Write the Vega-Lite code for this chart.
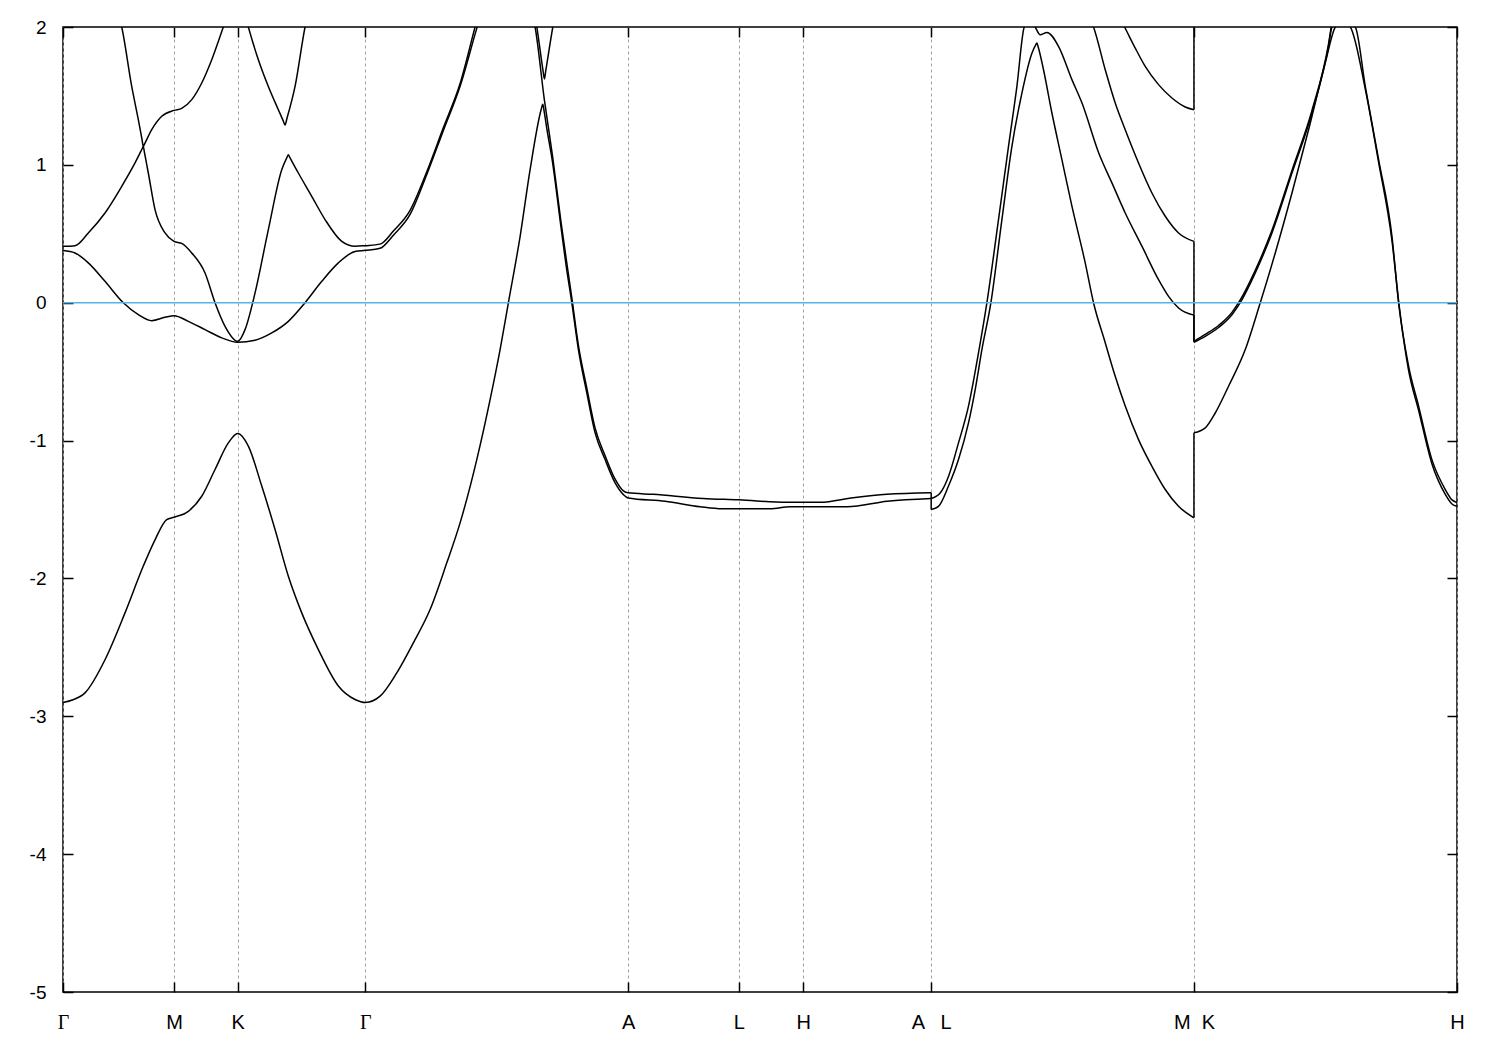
{
  "$schema": "https://vega.github.io/schema/vega-lite/v6.json",
  "width": 1394,
  "height": 965,
  "autosize": {"type": "none"},
  "padding": {"left": 63, "top": 27, "right": 43, "bottom": 58},
  "background": "white",
  "config": {
    "view": {"stroke": "black", "strokeWidth": 1.5},
    "axis": {"domain": false, "labelFont": "Liberation Sans", "labelColor": "black", "tickColor": "black", "tickWidth": 1.5, "title": null}
  },
  "datasets": {
    "bands": [
      {"b":1,"s":1,"k":0,"e":-2.9},{"b":1,"s":1,"k":0.1,"e":-2.88},{"b":1,"s":1,"k":0.22,"e":-2.83},{"b":1,"s":1,"k":0.42,"e":-2.59},{"b":1,"s":1,"k":0.62,"e":-2.25},{"b":1,"s":1,"k":0.803,"e":-1.91},{"b":1,"s":1,"k":0.92,"e":-1.72},{"b":1,"s":1,"k":1.037,"e":-1.573},{"b":1,"s":1,"k":1.11,"e":-1.556},{"b":1,"s":1,"k":1.253,"e":-1.513},{"b":1,"s":1,"k":1.387,"e":-1.404},{"b":1,"s":1,"k":1.52,"e":-1.21},{"b":1,"s":1,"k":1.653,"e":-1.017},{"b":1,"s":1,"k":1.747,"e":-0.949},{"b":1,"s":1,"k":1.853,"e":-1.04},{"b":1,"s":1,"k":1.987,"e":-1.33},{"b":1,"s":1,"k":2.12,"e":-1.645},{"b":1,"s":1,"k":2.253,"e":-1.984},{"b":1,"s":1,"k":2.387,"e":-2.25},{"b":1,"s":1,"k":2.553,"e":-2.516},{"b":1,"s":1,"k":2.753,"e":-2.78},{"b":1,"s":1,"k":2.92,"e":-2.878},{"b":1,"s":1,"k":3.023,"e":-2.9},{"b":1,"s":1,"k":3.17,"e":-2.854},{"b":1,"s":1,"k":3.337,"e":-2.685},{"b":1,"s":1,"k":3.503,"e":-2.467},{"b":1,"s":1,"k":3.67,"e":-2.226},{"b":1,"s":1,"k":3.837,"e":-1.887},{"b":1,"s":1,"k":3.97,"e":-1.597},{"b":1,"s":1,"k":4.137,"e":-1.138},{"b":1,"s":1,"k":4.27,"e":-0.703},{"b":1,"s":1,"k":4.37,"e":-0.34},{"b":1,"s":1,"k":4.453,"e":0.0},{"b":1,"s":1,"k":4.57,"e":0.48},{"b":1,"s":1,"k":4.67,"e":0.965},{"b":1,"s":1,"k":4.78,"e":1.4},{"b":1,"s":1,"k":4.797,"e":1.44},{"b":1,"s":1,"k":4.81,"e":1.39},{"b":1,"s":1,"k":4.84,"e":1.25},{"b":1,"s":1,"k":4.89,"e":1.04},{"b":1,"s":1,"k":4.978,"e":0.554},{"b":1,"s":1,"k":5.03,"e":0.27},{"b":1,"s":1,"k":5.087,"e":0.0},{"b":1,"s":1,"k":5.153,"e":-0.34},{"b":1,"s":1,"k":5.237,"e":-0.654},{"b":1,"s":1,"k":5.32,"e":-0.944},{"b":1,"s":1,"k":5.42,"e":-1.138},{"b":1,"s":1,"k":5.52,"e":-1.307},{"b":1,"s":1,"k":5.603,"e":-1.392},{"b":1,"s":1,"k":5.65,"e":-1.416},{"b":1,"s":1,"k":6.02,"e":-1.44},{"b":1,"s":1,"k":6.37,"e":-1.48},{"b":1,"s":1,"k":6.59,"e":-1.495},{"b":1,"s":1,"k":6.757,"e":-1.495},{"b":1,"s":1,"k":7.07,"e":-1.495},{"b":1,"s":1,"k":7.27,"e":-1.48},{"b":1,"s":1,"k":7.4,"e":-1.48},{"b":1,"s":1,"k":7.84,"e":-1.48},{"b":1,"s":1,"k":8.24,"e":-1.44},{"b":1,"s":1,"k":8.68,"e":-1.42},
      {"b":1,"s":2,"k":8.68,"e":-1.42},{"b":1,"s":2,"k":8.68,"e":-1.5},
      {"b":1,"s":3,"k":8.68,"e":-1.5},{"b":1,"s":3,"k":8.753,"e":-1.477},{"b":1,"s":3,"k":8.853,"e":-1.33},{"b":1,"s":3,"k":8.953,"e":-1.138},{"b":1,"s":3,"k":9.053,"e":-0.872},{"b":1,"s":3,"k":9.12,"e":-0.63},{"b":1,"s":3,"k":9.187,"e":-0.34},{"b":1,"s":3,"k":9.277,"e":0.0},{"b":1,"s":3,"k":9.387,"e":0.603},{"b":1,"s":3,"k":9.487,"e":1.134},{"b":1,"s":3,"k":9.587,"e":1.521},{"b":1,"s":3,"k":9.687,"e":1.81},{"b":1,"s":3,"k":9.725,"e":1.87},{"b":1,"s":3,"k":9.737,"e":1.884},{"b":1,"s":3,"k":9.75,"e":1.855},{"b":1,"s":3,"k":9.803,"e":1.69},{"b":1,"s":3,"k":9.887,"e":1.376},{"b":1,"s":3,"k":9.987,"e":1.038},{"b":1,"s":3,"k":10.087,"e":0.7},{"b":1,"s":3,"k":10.22,"e":0.289},{"b":1,"s":3,"k":10.303,"e":0.0},{"b":1,"s":3,"k":10.42,"e":-0.29},{"b":1,"s":3,"k":10.52,"e":-0.534},{"b":1,"s":3,"k":10.62,"e":-0.75},{"b":1,"s":3,"k":10.753,"e":-0.993},{"b":1,"s":3,"k":10.887,"e":-1.187},{"b":1,"s":3,"k":11.02,"e":-1.355},{"b":1,"s":3,"k":11.153,"e":-1.477},{"b":1,"s":3,"k":11.307,"e":-1.56},
      {"b":1,"s":4,"k":11.307,"e":-1.56},{"b":1,"s":4,"k":11.307,"e":-0.944},
      {"b":1,"s":5,"k":11.307,"e":-0.944},{"b":1,"s":5,"k":11.42,"e":-0.908},{"b":1,"s":5,"k":11.52,"e":-0.8},{"b":1,"s":5,"k":11.653,"e":-0.606},{"b":1,"s":5,"k":11.82,"e":-0.34},{"b":1,"s":5,"k":11.97,"e":0.0},{"b":1,"s":5,"k":12.12,"e":0.361},{"b":1,"s":5,"k":12.287,"e":0.796},{"b":1,"s":5,"k":12.453,"e":1.255},{"b":1,"s":5,"k":12.62,"e":1.74},{"b":1,"s":5,"k":12.72,"e":2.0},{"b":1,"s":5,"k":12.79,"e":2.04},{"b":1,"s":5,"k":12.87,"e":2.0},{"b":1,"s":5,"k":13.02,"e":1.55},{"b":1,"s":5,"k":13.153,"e":1.02},{"b":1,"s":5,"k":13.287,"e":0.45},{"b":1,"s":5,"k":13.36,"e":-0.03},{"b":1,"s":5,"k":13.453,"e":-0.49},{"b":1,"s":5,"k":13.553,"e":-0.78},{"b":1,"s":5,"k":13.687,"e":-1.17},{"b":1,"s":5,"k":13.82,"e":-1.39},{"b":1,"s":5,"k":13.887,"e":-1.46},{"b":1,"s":5,"k":13.937,"e":-1.477},

      {"b":2,"s":1,"k":0,"e":0.378},{"b":2,"s":1,"k":0.12,"e":0.361},{"b":2,"s":1,"k":0.253,"e":0.289},{"b":2,"s":1,"k":0.42,"e":0.155},{"b":2,"s":1,"k":0.603,"e":0.0},{"b":2,"s":1,"k":0.753,"e":-0.086},{"b":2,"s":1,"k":0.887,"e":-0.13},{"b":2,"s":1,"k":1.02,"e":-0.106},{"b":2,"s":1,"k":1.11,"e":-0.094},{"b":2,"s":1,"k":1.253,"e":-0.135},{"b":2,"s":1,"k":1.42,"e":-0.195},{"b":2,"s":1,"k":1.587,"e":-0.255},{"b":2,"s":1,"k":1.747,"e":-0.287},{"b":2,"s":1,"k":1.92,"e":-0.272},{"b":2,"s":1,"k":2.087,"e":-0.219},{"b":2,"s":1,"k":2.253,"e":-0.135},{"b":2,"s":1,"k":2.42,"e":0.0},{"b":2,"s":1,"k":2.587,"e":0.155},{"b":2,"s":1,"k":2.753,"e":0.289},{"b":2,"s":1,"k":2.92,"e":0.372},{"b":2,"s":1,"k":3.023,"e":0.38},{"b":2,"s":1,"k":3.17,"e":0.395},{"b":2,"s":1,"k":3.303,"e":0.49},{"b":2,"s":1,"k":3.47,"e":0.64},{"b":2,"s":1,"k":3.637,"e":0.93},{"b":2,"s":1,"k":3.803,"e":1.25},{"b":2,"s":1,"k":3.97,"e":1.57},{"b":2,"s":1,"k":4.137,"e":1.99},{"b":2,"s":1,"k":4.27,"e":2.3},{"b":2,"s":1,"k":4.42,"e":2.5},{"b":2,"s":1,"k":4.57,"e":2.3},{"b":2,"s":1,"k":4.72,"e":2.0},{"b":2,"s":1,"k":4.813,"e":1.47},{"b":2,"s":1,"k":4.895,"e":1.06},{"b":2,"s":1,"k":4.98,"e":0.58},{"b":2,"s":1,"k":5.09,"e":0.02},{"b":2,"s":1,"k":5.153,"e":-0.31},{"b":2,"s":1,"k":5.237,"e":-0.62},{"b":2,"s":1,"k":5.32,"e":-0.91},{"b":2,"s":1,"k":5.42,"e":-1.11},{"b":2,"s":1,"k":5.52,"e":-1.28},{"b":2,"s":1,"k":5.603,"e":-1.365},{"b":2,"s":1,"k":5.65,"e":-1.379},{"b":2,"s":1,"k":5.9,"e":-1.39},{"b":2,"s":1,"k":6.4,"e":-1.42},{"b":2,"s":1,"k":6.757,"e":-1.43},{"b":2,"s":1,"k":7.237,"e":-1.448},{"b":2,"s":1,"k":7.4,"e":-1.448},{"b":2,"s":1,"k":7.57,"e":-1.448},{"b":2,"s":1,"k":7.9,"e":-1.415},{"b":2,"s":1,"k":8.237,"e":-1.39},{"b":2,"s":1,"k":8.68,"e":-1.379},
      {"b":2,"s":2,"k":8.68,"e":-1.379},{"b":2,"s":2,"k":8.68,"e":-1.42},
      {"b":2,"s":3,"k":8.68,"e":-1.42},{"b":2,"s":3,"k":8.77,"e":-1.38},{"b":2,"s":3,"k":8.853,"e":-1.26},{"b":2,"s":3,"k":8.953,"e":-1.017},{"b":2,"s":3,"k":9.053,"e":-0.75},{"b":2,"s":3,"k":9.153,"e":-0.364},{"b":2,"s":3,"k":9.237,"e":0.0},{"b":2,"s":3,"k":9.353,"e":0.603},{"b":2,"s":3,"k":9.453,"e":1.134},{"b":2,"s":3,"k":9.537,"e":1.57},{"b":2,"s":3,"k":9.61,"e":2.0},{"b":2,"s":3,"k":9.67,"e":2.06},{"b":2,"s":3,"k":9.72,"e":2.0},{"b":2,"s":3,"k":9.77,"e":1.944},{"b":2,"s":3,"k":9.837,"e":1.96},{"b":2,"s":3,"k":9.953,"e":1.86},{"b":2,"s":3,"k":10.087,"e":1.618},{"b":2,"s":3,"k":10.187,"e":1.45},{"b":2,"s":3,"k":10.353,"e":1.09},{"b":2,"s":3,"k":10.487,"e":0.869},{"b":2,"s":3,"k":10.62,"e":0.651},{"b":2,"s":3,"k":10.787,"e":0.41},{"b":2,"s":3,"k":10.953,"e":0.167},{"b":2,"s":3,"k":11.053,"e":0.046},{"b":2,"s":3,"k":11.153,"e":-0.038},{"b":2,"s":3,"k":11.307,"e":-0.09},
      {"b":2,"s":4,"k":11.307,"e":-0.09},{"b":2,"s":4,"k":11.307,"e":-0.287},
      {"b":2,"s":5,"k":11.307,"e":-0.287},{"b":2,"s":5,"k":11.42,"e":-0.244},{"b":2,"s":5,"k":11.553,"e":-0.18},{"b":2,"s":5,"k":11.687,"e":-0.087},{"b":2,"s":5,"k":11.77,"e":0.0},{"b":2,"s":5,"k":11.92,"e":0.216},{"b":2,"s":5,"k":12.087,"e":0.506},{"b":2,"s":5,"k":12.287,"e":0.94},{"b":2,"s":5,"k":12.487,"e":1.376},{"b":2,"s":5,"k":12.653,"e":1.86},{"b":2,"s":5,"k":12.687,"e":2.0},{"b":2,"s":5,"k":12.8,"e":2.06},{"b":2,"s":5,"k":12.92,"e":2.0},{"b":2,"s":5,"k":13.02,"e":1.57},{"b":2,"s":5,"k":13.153,"e":1.04},{"b":2,"s":5,"k":13.287,"e":0.48},{"b":2,"s":5,"k":13.353,"e":0.0},{"b":2,"s":5,"k":13.453,"e":-0.46},{"b":2,"s":5,"k":13.553,"e":-0.75},{"b":2,"s":5,"k":13.687,"e":-1.14},{"b":2,"s":5,"k":13.82,"e":-1.355},{"b":2,"s":5,"k":13.887,"e":-1.43},{"b":2,"s":5,"k":13.937,"e":-1.45},

      {"b":3,"s":1,"k":0,"e":0.409},{"b":3,"s":1,"k":0.12,"e":0.414},{"b":3,"s":1,"k":0.253,"e":0.506},{"b":3,"s":1,"k":0.42,"e":0.651},{"b":3,"s":1,"k":0.587,"e":0.844},{"b":3,"s":1,"k":0.72,"e":1.014},{"b":3,"s":1,"k":0.79,"e":1.115},{"b":3,"s":1,"k":0.803,"e":1.134},{"b":3,"s":1,"k":0.813,"e":1.095},{"b":3,"s":1,"k":0.853,"e":0.941},{"b":3,"s":1,"k":0.92,"e":0.675},{"b":3,"s":1,"k":1.02,"e":0.506},{"b":3,"s":1,"k":1.11,"e":0.445},{"b":3,"s":1,"k":1.187,"e":0.43},{"b":3,"s":1,"k":1.287,"e":0.361},{"b":3,"s":1,"k":1.42,"e":0.216},{"b":3,"s":1,"k":1.52,"e":0.0},{"b":3,"s":1,"k":1.62,"e":-0.171},{"b":3,"s":1,"k":1.747,"e":-0.28},{"b":3,"s":1,"k":1.82,"e":-0.195},{"b":3,"s":1,"k":1.92,"e":0.071},{"b":3,"s":1,"k":2.053,"e":0.53},{"b":3,"s":1,"k":2.187,"e":0.965},{"b":3,"s":1,"k":2.24,"e":1.055},{"b":3,"s":1,"k":2.253,"e":1.074},{"b":3,"s":1,"k":2.265,"e":1.058},{"b":3,"s":1,"k":2.353,"e":0.941},{"b":3,"s":1,"k":2.487,"e":0.772},{"b":3,"s":1,"k":2.62,"e":0.603},{"b":3,"s":1,"k":2.787,"e":0.445},{"b":3,"s":1,"k":2.92,"e":0.409},{"b":3,"s":1,"k":3.023,"e":0.414},{"b":3,"s":1,"k":3.17,"e":0.425},{"b":3,"s":1,"k":3.303,"e":0.52},{"b":3,"s":1,"k":3.47,"e":0.67},{"b":3,"s":1,"k":3.637,"e":0.95},{"b":3,"s":1,"k":3.803,"e":1.27},{"b":3,"s":1,"k":3.97,"e":1.59},{"b":3,"s":1,"k":4.12,"e":2.0},{"b":3,"s":1,"k":4.27,"e":2.4},{"b":3,"s":1,"k":4.42,"e":2.6},{"b":3,"s":1,"k":4.57,"e":2.45},{"b":3,"s":1,"k":4.737,"e":2.0},{"b":3,"s":1,"k":4.8,"e":1.68},{"b":3,"s":1,"k":4.813,"e":1.623},{"b":3,"s":1,"k":4.826,"e":1.68},{"b":3,"s":1,"k":4.897,"e":2.0},{"b":3,"s":1,"k":5.05,"e":2.5},{"b":3,"s":1,"k":5.35,"e":2.9},{"b":3,"s":1,"k":5.65,"e":3.0},{"b":3,"s":1,"k":6.757,"e":3.0},{"b":3,"s":1,"k":7.4,"e":3.0},{"b":3,"s":1,"k":8.68,"e":3.0},
      {"b":3,"s":3,"k":8.68,"e":3.0},{"b":3,"s":3,"k":9.5,"e":2.8},{"b":3,"s":3,"k":10.0,"e":2.4},{"b":3,"s":3,"k":10.2,"e":2.15},{"b":3,"s":3,"k":10.303,"e":2.0},{"b":3,"s":3,"k":10.42,"e":1.69},{"b":3,"s":3,"k":10.52,"e":1.449},{"b":3,"s":3,"k":10.62,"e":1.255},{"b":3,"s":3,"k":10.753,"e":1.014},{"b":3,"s":3,"k":10.887,"e":0.796},{"b":3,"s":3,"k":11.02,"e":0.627},{"b":3,"s":3,"k":11.153,"e":0.506},{"b":3,"s":3,"k":11.307,"e":0.445},
      {"b":3,"s":4,"k":11.307,"e":0.445},{"b":3,"s":4,"k":11.307,"e":-0.28},
      {"b":3,"s":5,"k":11.307,"e":-0.28},{"b":3,"s":5,"k":11.42,"e":-0.23},{"b":3,"s":5,"k":11.553,"e":-0.165},{"b":3,"s":5,"k":11.687,"e":-0.07},{"b":3,"s":5,"k":11.77,"e":0.02},{"b":3,"s":5,"k":11.92,"e":0.235},{"b":3,"s":5,"k":12.087,"e":0.525},{"b":3,"s":5,"k":12.287,"e":0.96},{"b":3,"s":5,"k":12.487,"e":1.395},{"b":3,"s":5,"k":12.653,"e":1.88},{"b":3,"s":5,"k":12.68,"e":2.0},{"b":3,"s":5,"k":12.8,"e":2.3},{"b":3,"s":5,"k":13.0,"e":2.6},{"b":3,"s":5,"k":13.5,"e":2.9},{"b":3,"s":5,"k":13.937,"e":3.0},

      {"b":4,"s":1,"k":0,"e":2.6},{"b":4,"s":1,"k":0.4,"e":2.3},{"b":4,"s":1,"k":0.587,"e":2.0},{"b":4,"s":1,"k":0.687,"e":1.569},{"b":4,"s":1,"k":0.753,"e":1.328},{"b":4,"s":1,"k":0.79,"e":1.184},{"b":4,"s":1,"k":0.803,"e":1.134},{"b":4,"s":1,"k":0.815,"e":1.151},{"b":4,"s":1,"k":0.887,"e":1.255},{"b":4,"s":1,"k":0.987,"e":1.352},{"b":4,"s":1,"k":1.11,"e":1.395},{"b":4,"s":1,"k":1.187,"e":1.41},{"b":4,"s":1,"k":1.287,"e":1.473},{"b":4,"s":1,"k":1.387,"e":1.594},{"b":4,"s":1,"k":1.487,"e":1.763},{"b":4,"s":1,"k":1.603,"e":2.0},{"b":4,"s":1,"k":1.747,"e":2.3},{"b":4,"s":1,"k":1.853,"e":2.0},{"b":4,"s":1,"k":1.953,"e":1.763},{"b":4,"s":1,"k":2.053,"e":1.569},{"b":4,"s":1,"k":2.153,"e":1.4},{"b":4,"s":1,"k":2.2,"e":1.323},{"b":4,"s":1,"k":2.22,"e":1.29},{"b":4,"s":1,"k":2.24,"e":1.34},{"b":4,"s":1,"k":2.32,"e":1.569},{"b":4,"s":1,"k":2.42,"e":2.0},{"b":4,"s":1,"k":2.7,"e":2.5},{"b":4,"s":1,"k":3.023,"e":2.6},{"b":4,"s":1,"k":4.0,"e":3.0},{"b":4,"s":1,"k":5.65,"e":3.2},{"b":4,"s":1,"k":8.68,"e":3.2},
      {"b":4,"s":3,"k":8.68,"e":3.2},{"b":4,"s":3,"k":9.5,"e":3.0},{"b":4,"s":3,"k":10.0,"e":2.7},{"b":4,"s":3,"k":10.3,"e":2.4},{"b":4,"s":3,"k":10.613,"e":2.0},{"b":4,"s":3,"k":10.72,"e":1.847},{"b":4,"s":3,"k":10.82,"e":1.714},{"b":4,"s":3,"k":10.953,"e":1.582},{"b":4,"s":3,"k":11.087,"e":1.485},{"b":4,"s":3,"k":11.22,"e":1.42},{"b":4,"s":3,"k":11.307,"e":1.4},
      {"b":4,"s":4,"k":11.307,"e":1.4},{"b":4,"s":4,"k":11.307,"e":2.3},
      {"b":4,"s":5,"k":11.307,"e":2.3},{"b":4,"s":5,"k":12.0,"e":2.8},{"b":4,"s":5,"k":13.937,"e":3.2}
    ]
  },
  "layer": [
    {
      "data": {"name": "bands"},
      "mark": {"type": "line", "color": "black", "strokeWidth": 1.5, "clip": true, "interpolate": "monotone"},
      "encoding": {
        "x": {
          "field": "k", "type": "quantitative",
          "scale": {"domain": [0, 13.937], "nice": false, "zero": false},
          "axis": {
            "orient": "bottom",
            "values": [0, 1.11, 1.747, 3.023, 5.65, 6.757, 7.4, 8.68, 11.307, 13.937],
            "labelExpr": "datum.value == 0 || datum.value == 3.023 ? 'Γ' : datum.value == 1.11 ? 'M' : datum.value == 1.747 ? 'K' : datum.value == 5.65 ? 'A' : datum.value == 6.757 ? 'L' : datum.value == 7.4 ? 'H' : datum.value == 8.68 ? 'A\u2002\u00a0L' : datum.value == 11.307 ? 'M\u00a0\u00a0K' : 'H'",
            "labelFont": {"condition": {"test": "datum.value == 0 || datum.value == 3.023", "value": "Liberation Serif"}, "value": "Liberation Sans"},
            "labelFontSize": 20,
            "labelPadding": 30,
            "labelFlush": false,
            "labelOverlap": false,
            "labelBound": false,
            "tickSize": -10,
            "grid": true,
            "gridColor": "#a0a0a0",
            "gridDash": [3, 3],
            "gridWidth": 1
          }
        },
        "y": {
          "field": "e", "type": "quantitative",
          "scale": {"domain": [-5, 2], "nice": false, "zero": false},
          "axis": {
            "orient": "left",
            "values": [-5, -4, -3, -2, -1, 0, 1, 2],
            "labelExpr": "'' + datum.value",
            "labelFontSize": 19,
            "labelPadding": 27,
            "labelFlush": false,
            "labelOverlap": false,
            "tickSize": -10,
            "grid": false
          }
        },
        "detail": [{"field": "b", "type": "nominal"}, {"field": "s", "type": "nominal"}],
        "order": {"value": null}
      }
    },
    {
      "data": {"values": [{}]},
      "mark": {"type": "rule", "color": "#56B4E9", "strokeWidth": 1.5},
      "encoding": {
        "y": {"datum": 0, "axis": {"orient": "right", "values": [-5, -4, -3, -2, -1, 0, 1, 2], "labels": false, "tickSize": -10, "grid": false}},
        "x": {"datum": 0, "axis": {"orient": "top", "values": [0, 1.11, 1.747, 3.023, 5.65, 6.757, 7.4, 8.68, 11.307, 13.937], "labels": false, "tickSize": -10, "grid": false}},
        "x2": {"datum": 13.937}
      }
    }
  ],
  "resolve": {"axis": {"x": "independent", "y": "independent"}}
}
